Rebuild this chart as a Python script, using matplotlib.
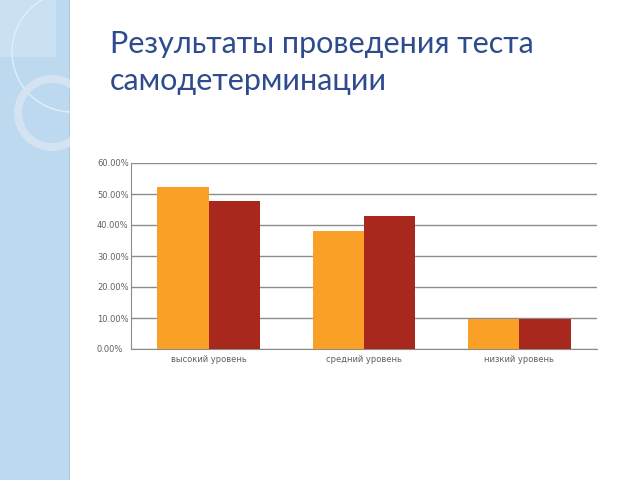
import numpy as np
import matplotlib; matplotlib.use("Agg")
import matplotlib.pyplot as plt
from matplotlib.patches import Rectangle, Circle, Wedge

categories = ["высокий уровень", "средний уровень", "низкий уровень"]
series_a = [52.38, 38.10, 9.52]   # orange
series_b = [47.62, 42.86, 9.52]   # dark red
yticks = [0, 10, 20, 30, 40, 50, 60]
title = "Результаты проведения теста\nсамодетерминации"

W, H = 640, 480
fig = plt.figure(figsize=(6.4, 4.8), dpi=100, facecolor="white")

# ── decorative left strip ────────────────────────────────────────────────────
bg = fig.add_axes([0, 0, 1, 1], zorder=0)
bg.set_xlim(0, W); bg.set_ylim(H, 0); bg.axis("off")
bg.add_patch(Rectangle((0, 0), 70, H, color="#bcd9f0", lw=0))
bg.add_patch(Rectangle((68.5, 0), 1.5, H, color="#a9c8e3", lw=0))
bg.add_patch(Rectangle((0, 0), 56, 57, color="#cae1f4", lw=0))
bg.add_patch(Circle((72, 52), 60, fill=False, ec="#e2eef9", lw=1.0))
bg.add_patch(Wedge((52, 113), 38, 0, 360, width=8, color="#d6e5f2", alpha=0.9, lw=0))
bg.add_patch(Rectangle((70, 0), W - 70, H, color="white", lw=0))

fig.text(110 / W, 1 - 30 / H, title, ha="left", va="top", fontsize=22,
         family="Lato", color="#2e4b8d", linespacing=1.4)

# ── chart ────────────────────────────────────────────────────────────────────
ax = fig.add_axes([131 / W, 1 - 349 / H, 466 / W, 186 / H], zorder=1)
x = np.arange(len(categories)); w = 0.33
ax.bar(x - w / 2, series_a, w, color="#fba026", zorder=3)
ax.bar(x + w / 2, series_b, w, color="#a8281e", zorder=3)
ax.set_xlim(-0.5, 2.5); ax.set_ylim(0, 60)
ax.set_yticks(yticks)
ax.set_yticklabels([f"{v:.2f}%" for v in yticks])
ax.set_xticks(x); ax.set_xticklabels(categories)
ax.yaxis.grid(True, color="#8c8c8c", lw=1, zorder=0)
for s in ("top", "right"): ax.spines[s].set_visible(False)
for s in ("left", "bottom"): ax.spines[s].set_color("#8c8c8c")
ax.tick_params(axis="both", length=0, labelsize=6, labelcolor="#606060")
ax.tick_params(axis="y", pad=24.5)
ax.tick_params(axis="x", pad=4)
for t in ax.get_yticklabels(): t.set_horizontalalignment("left")
ax.set_facecolor("none")

fig.savefig("out.png", dpi=100, facecolor="white")
